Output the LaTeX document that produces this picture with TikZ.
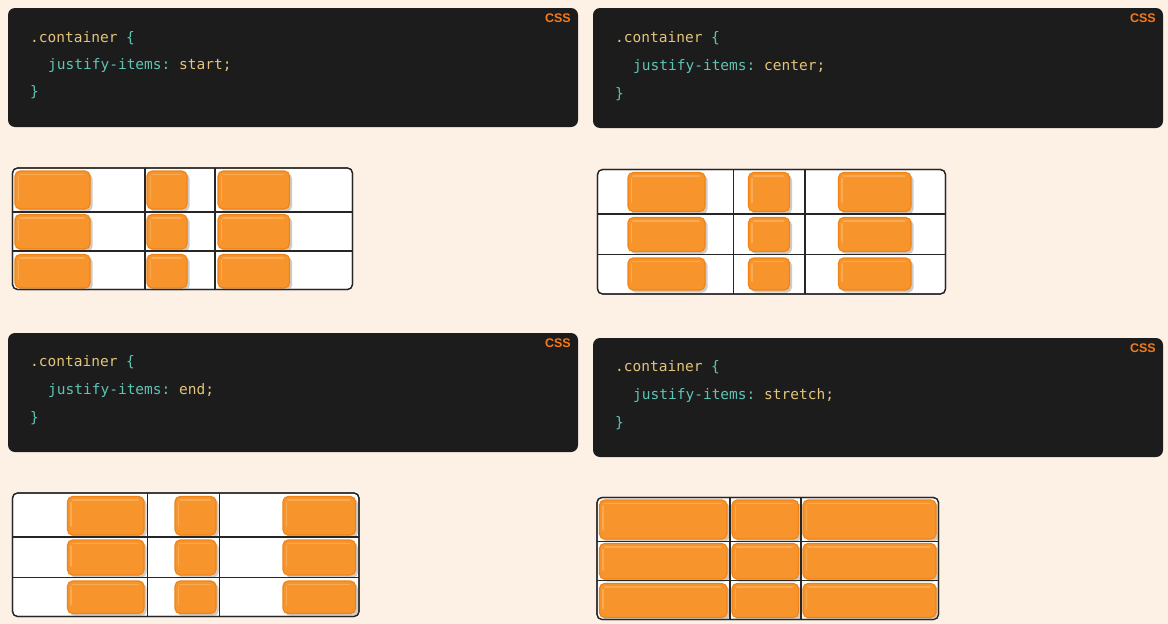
\documentclass[tikz,border=0pt]{standalone}
\usepackage{fontspec}
\setmonofont{DejaVu Sans Mono}
\newfontfamily\labelfont{Liberation Sans}
\definecolor{pagebg}{HTML}{FDF1E6}
\definecolor{codebg}{HTML}{1C1C1C}
\definecolor{teal}{HTML}{5EC4B4}
\definecolor{gold}{HTML}{E3C47A}
\definecolor{cssorange}{HTML}{F77A1A}
\definecolor{itemfill}{HTML}{F7942C}
\definecolor{itemdraw}{HTML}{EE8418}
\definecolor{itemlight}{HTML}{F9AA55}
\definecolor{shadowgray}{HTML}{CFCBC8}
\tikzset{
  codebox/.style={fill=codebg, rounded corners=7pt},
  codetext/.style={anchor=west, inner sep=0pt, font=\ttfamily\fontsize{14.5}{17}\selectfont},
  csslabel/.style={anchor=east, inner sep=0pt, text=cssorange, font=\labelfont\bfseries\fontsize{12.5}{14}\selectfont},
  gridframe/.style={draw=black!85, line width=1.2pt, fill=white, rounded corners=5pt},
  gridline/.style={draw=black!85, line width=1.2pt},
  itembox/.style={fill=itemfill, draw=itemdraw, line width=1.1pt, rounded corners=5pt},
  itemshadow/.style={fill=shadowgray, rounded corners=5pt},
  itemshine/.style={draw=itemlight, line width=1.6pt, line cap=round},
}
\newcommand\itm[4]{%
  \fill[itemshadow] (#1+2.5,#2+2.5) rectangle (#3+2.5,#4+2.5);
  \filldraw[itembox] (#1,#2) rectangle (#3,#4);
  \draw[itemshine] (#1+5,#2+3.4) -- (#3-6,#2+3.4);
  \draw[itemshine] (#1+3.4,#2+6) -- (#1+3.4,#4-9);
}
\newcommand\gridframe[4]{\draw[gridframe] (#1,#2) rectangle (#3,#4);}
\newcommand\gridlines[8]{%
  \draw[gridline] (#5,#2) -- (#5,#4);
  \draw[gridline] (#6,#2) -- (#6,#4);
  \draw[gridline] (#1,#7) -- (#3,#7);
  \draw[gridline] (#1,#8) -- (#3,#8);
  \draw[draw=black!85, line width=1.2pt, rounded corners=5pt] (#1,#2) rectangle (#3,#4);
}
\begin{document}
\begin{tikzpicture}[x=1pt,y=-1pt]
\useasboundingbox[fill=pagebg] (0,0) rectangle (1168,624);

% ---------- code boxes ----------
\path[codebox] (8,8) rectangle (578,127);
\node[csslabel] (css1) at (571,18) {CSS};
\node[codetext] (c1a) at (30,38.5) {\textcolor{gold}{.container} \textcolor{teal}{\{}};
\node[codetext] (c1b) at (48,65) {\textcolor{teal}{justify-items:} \textcolor{gold}{start;}};
\node[codetext] (c1c) at (30,92.5) {\textcolor{teal}{\}}};

\path[codebox] (593,8) rectangle (1163,128);
\node[csslabel] (css2) at (1156,18) {CSS};
\node[codetext] (c2a) at (615,38.5) {\textcolor{gold}{.container} \textcolor{teal}{\{}};
\node[codetext] (c2b) at (633,66.5) {\textcolor{teal}{justify-items:} \textcolor{gold}{center;}};
\node[codetext] (c2c) at (615,94.5) {\textcolor{teal}{\}}};

\path[codebox] (8,333) rectangle (578,452);
\node[csslabel] (css3) at (571,343) {CSS};
\node[codetext] (c3a) at (30,362.5) {\textcolor{gold}{.container} \textcolor{teal}{\{}};
\node[codetext] (c3b) at (48,390.5) {\textcolor{teal}{justify-items:} \textcolor{gold}{end;}};
\node[codetext] (c3c) at (30,418.5) {\textcolor{teal}{\}}};

\path[codebox] (593,338) rectangle (1163,457);
\node[csslabel] (css4) at (1156,348) {CSS};
\node[codetext] (c4a) at (615,367.5) {\textcolor{gold}{.container} \textcolor{teal}{\{}};
\node[codetext] (c4b) at (633,395.5) {\textcolor{teal}{justify-items:} \textcolor{gold}{stretch;}};
\node[codetext] (c4c) at (615,423.5) {\textcolor{teal}{\}}};

% ---------- grid 1: start ----------
\gridframe{12.5}{168}{352.5}{289.5}
\foreach \ya/\yb in {171/209, 214.5/249, 254.5/288}{
  \itm{15}{\ya}{90}{\yb}
  \itm{147}{\ya}{187}{\yb}
  \itm{218}{\ya}{289.5}{\yb}
}
\gridlines{12.5}{168}{352.5}{289.5}{145}{215}{212}{251}

% ---------- grid 2: center ----------
\gridframe{597.5}{169.5}{945.5}{294}
\foreach \ya/\yb in {172.5/211.5, 217.5/251.5, 258/290}{
  \itm{628}{\ya}{705}{\yb}
  \itm{748.5}{\ya}{789.5}{\yb}
  \itm{838.5}{\ya}{911}{\yb}
}
\gridlines{597.5}{169.5}{945.5}{294}{733.5}{805}{214}{254.5}

% ---------- grid 3: end ----------
\gridframe{12.5}{493}{359}{616.5}
\foreach \ya/\yb in {496.5/535, 540/575, 581/613.5}{
  \itm{67.5}{\ya}{144}{\yb}
  \itm{175}{\ya}{216}{\yb}
  \itm{283}{\ya}{355.5}{\yb}
}
\gridlines{12.5}{493}{359}{616.5}{147.5}{219.5}{537}{577.5}

% ---------- grid 4: stretch ----------
\gridframe{597}{497.5}{938.5}{619.5}
\foreach \ya/\yb in {500/539, 543.5/579, 583.5/617.5}{
  \itm{599.5}{\ya}{727}{\yb}
  \itm{732}{\ya}{798.5}{\yb}
  \itm{803}{\ya}{936}{\yb}
}
\gridlines{597}{497.5}{938.5}{619.5}{730}{801}{541.5}{580.5}
\end{tikzpicture}
\end{document}
